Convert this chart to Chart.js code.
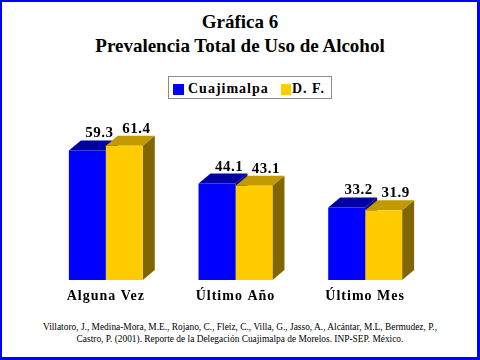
<!DOCTYPE html>
<html>
<head>
<meta charset="utf-8">
<script src="https://cdn.jsdelivr.net/npm/chart.js@4"></script>
<style>
  body { margin: 0; background: #fff; }
  #page {
    position: relative; width: 480px; height: 360px; box-sizing: border-box;
    border-left: 2px solid #0000ff; border-top: 2px solid #0000ff;
    border-right: 3px solid #0000ff; border-bottom: 3px solid #0000ff;
    font-family: "Liberation Serif", "Times New Roman", serif; overflow: hidden;
  }
  .titulo {
    position: absolute; left: -2px; width: 480px; text-align: center;
    font-weight: bold; font-size: 19px; line-height: 24px; top: 8px;
  }
  #leyenda {
    position: absolute; left: 166px; top: 74px; width: 164px; height: 23px;
    box-sizing: border-box; border: 1px solid #8c8c8c;
    font-weight: bold; font-size: 14px; letter-spacing: 1px; line-height: 21px;
  }
  #leyenda span.caja { position: absolute; top: 7px; width: 11px; height: 11px; }
  #leyenda span.txt { position: absolute; top: 1px; }
  #grafica { position: absolute; left: -2px; top: 98px; }
  #fuente {
    position: absolute; left: -2px; width: 480px; top: 320px; text-align: center;
    font-family: "Liberation Serif", serif; font-size: 9.4px; line-height: 11.5px;
  }
</style>
</head>
<body>
<div id="page">
  <div class="titulo">Gráfica 6<br>Prevalencia Total de Uso de Alcohol</div>
  <div id="leyenda">
    <span class="caja" style="left:4px;background:#0000ff"></span>
    <span class="txt" style="left:19px">Cuajimalpa</span>
    <span class="caja" style="left:112px;width:10px;background:#ffcc00"></span>
    <span class="txt" style="left:123px">D. F.</span>
  </div>
  <canvas id="grafica" width="480" height="210"></canvas>
  <div id="fuente">Villatoro, J., Medina-Mora, M.E., Rojano, C., Fleiz, C., Villa, G., Jasso, A., Alcántar, M.L, Bermudez, P.,<br>Castro, P. (2001). Reporte de la Delegación Cuajimalpa de Morelos. INP-SEP. México.</div>
</div>
<script>
// Datos de la gráfica
const categorias = ["Alguna Vez", "Último Año", "Último Mes"];
const series = ["Cuajimalpa", "D. F."];
const cuajimalpa = [59.3, 44.1, 33.2];
const df = [61.4, 43.1, 31.9];

// Colores : frente, tapa, costado
const frente = ["#0000ff", "#ffcc00"];
const tapa = ["#0000a0", "#c09a00"];
const costado = ["#00007a", "#806600"];
const dx = 12, dy = 10;

// Caras 3D dibujadas antes de las barras
const caras3d = {
  id: "caras3d",
  beforeDraw(chart) {
    chart.ctx.letterSpacing = "1px";
  },
  beforeDatasetsDraw(chart) {
    const ctx = chart.ctx;
    ctx.save();
    chart.data.datasets.forEach((ds, i) => {
      chart.getDatasetMeta(i).data.forEach((bar) => {
        const l = bar.x - bar.width / 2, r = bar.x + bar.width / 2;
        const t = bar.y, b = bar.base;
        ctx.fillStyle = costado[i];
        ctx.beginPath();
        ctx.moveTo(r, t); ctx.lineTo(r + dx, t - dy);
        ctx.lineTo(r + dx, b - dy); ctx.lineTo(r, b);
        ctx.closePath(); ctx.fill();
        ctx.fillStyle = tapa[i];
        ctx.beginPath();
        ctx.moveTo(l, t); ctx.lineTo(r, t);
        ctx.lineTo(r + dx, t - dy); ctx.lineTo(l + dx, t - dy);
        ctx.closePath(); ctx.fill();
      });
    });
    ctx.restore();
  },
  afterDatasetsDraw(chart) {
    // Etiquetas de valores
    const ctx = chart.ctx;
    ctx.save();
    ctx.font = "bold 15px 'Liberation Serif'";
    ctx.letterSpacing = "0.5px";
    ctx.fillStyle = "#000";
    ctx.textAlign = "center";
    ctx.textBaseline = "alphabetic";
    chart.data.datasets.forEach((ds, i) => {
      chart.getDatasetMeta(i).data.forEach((bar, j) => {
        ctx.fillText(ds.data[j].toFixed(1), bar.x + 12, bar.y - 13);
      });
    });
    ctx.restore();
  },
};

new Chart(document.getElementById("grafica"), {
  type: "bar",
  data: {
    labels: categorias,
    datasets: [
      { label: series[0], data: cuajimalpa, backgroundColor: frente[0] },
      { label: series[1], data: df, backgroundColor: frente[1] },
    ],
  },
  options: {
    responsive: false,
    animation: false,
    layout: { padding: { left: 41, right: 50, top: 27, bottom: 0 } },
    categoryPercentage: 0.57,
    barPercentage: 1.0,
    plugins: { legend: { display: false }, tooltip: { enabled: false } },
    scales: {
      x: {
        grid: { display: false, drawTicks: false },
        border: { display: false },
        ticks: {
          color: "#000",
          font: { family: "Liberation Serif", size: 14, weight: "bold" },
          padding: 8,
        },
        afterFit: (s) => { s.height = 30; },
      },
      y: { display: false, min: 0, max: 70 },
    },
  },
  plugins: [caras3d],
});
</script>
</body>
</html>
